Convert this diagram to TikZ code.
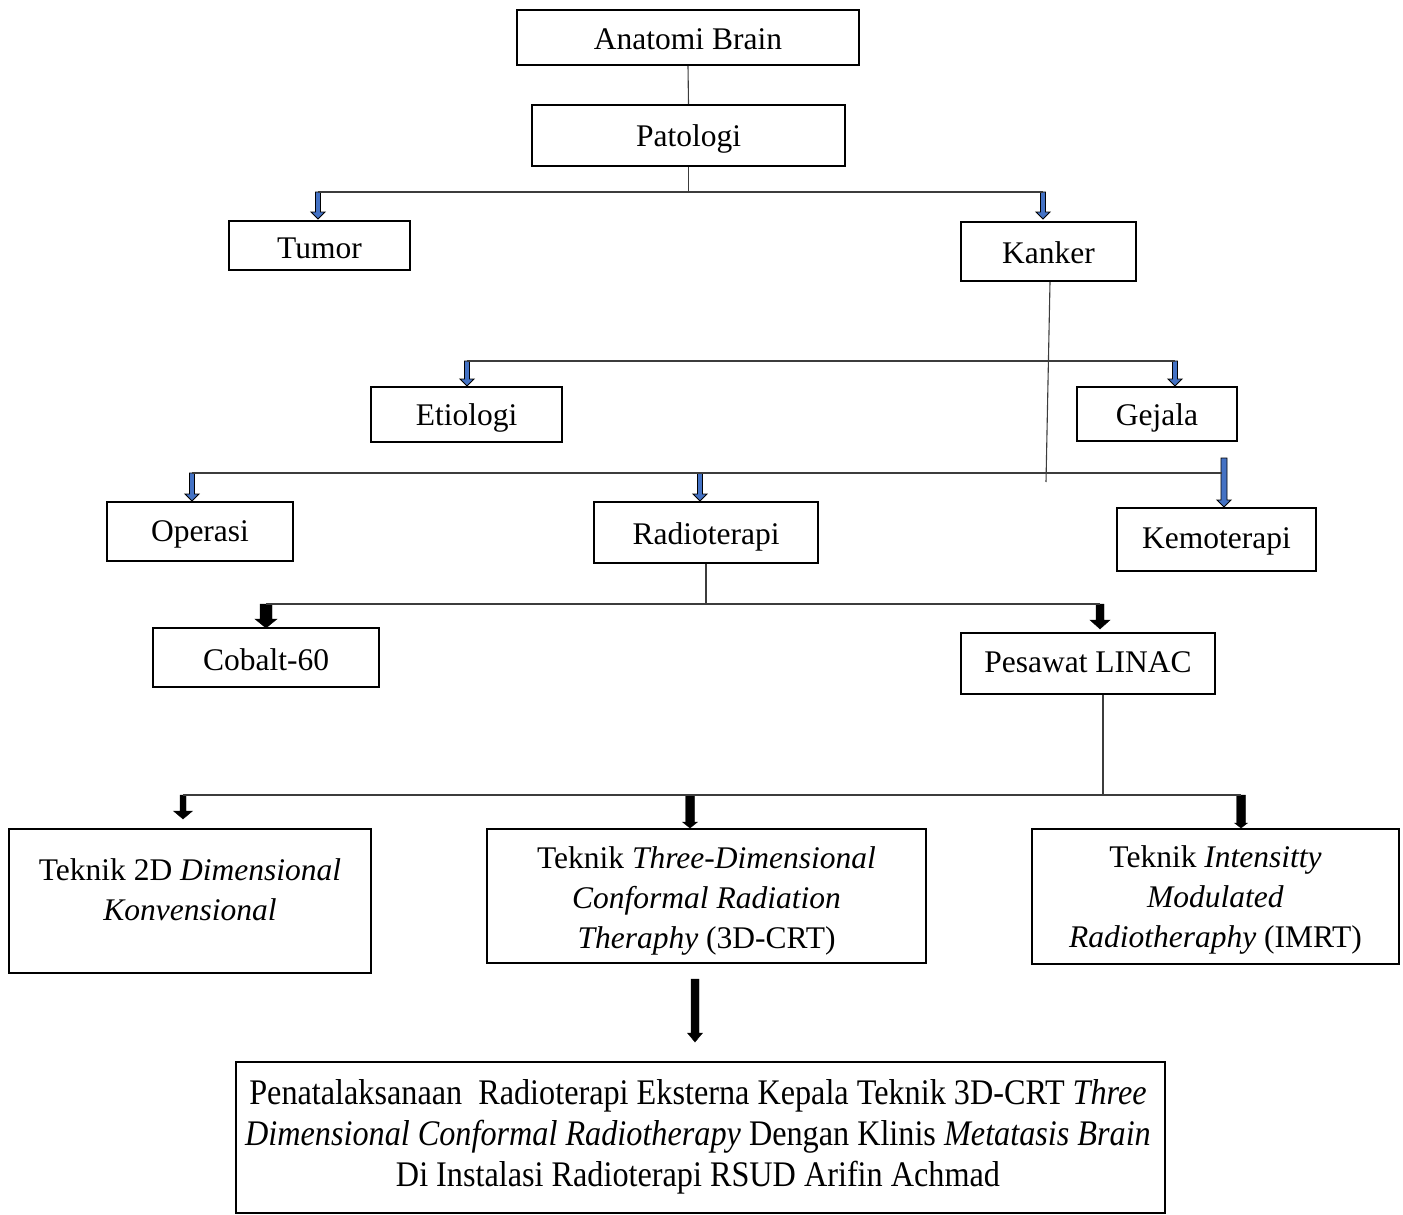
\documentclass[tikz,border=0pt]{standalone}
\usepackage{fontspec}
\setmainfont{Liberation Serif}
\newfontfamily\condfont[FakeStretch=0.895]{Liberation Serif}
\usetikzlibrary{calc}
\definecolor{arrblue}{RGB}{68,114,196}
\definecolor{lnc}{RGB}{60,60,60}
\tikzset{
  boxn/.style={draw=black, line width=2pt, inner sep=0pt, rectangle},
  txt/.style={inner sep=0pt, font=\fontsize{31.5}{40}\selectfont},
  ctxt/.style={inner sep=0pt, font=\condfont\fontsize{36}{41}\selectfont},
  conn/.style={draw=lnc, line width=1.1pt},
  bluearr/.style={fill=arrblue, draw=black, line width=0.9pt, line join=miter},
  blackarr/.style={fill=black, draw=black, line width=0.4pt},
}
% name, x, ytop, ytip, shaft width, head width, head length, style
\newcommand{\barr}[8]{%
  \coordinate (#1-top) at (#2,#3);
  \coordinate (#1-tip) at (#2,#4);
  \path[#8] ({#2-#5/2},#3) -- ({#2+#5/2},#3) -- ({#2+#5/2},{#4-#7}) -- ({#2+#6/2},{#4-#7})
     -- (#1-tip) -- ({#2-#6/2},{#4-#7}) -- ({#2-#5/2},{#4-#7}) -- cycle;}
\begin{document}
\begin{tikzpicture}[x=1pt,y=-1pt]
\useasboundingbox (0,0) rectangle (1403,1215);
% boxes
\node[boxn, minimum width=342pt, minimum height=55pt] (anat) at (688,37.5) {};
\node[txt, anchor=base] (anat-t) at (688,50) {Anatomi Brain};
\node[boxn, minimum width=313pt, minimum height=61pt] (pat) at (688.5,135.5) {};
\node[txt, anchor=base] (pat-t) at (688.5,146) {Patologi};
\node[boxn, minimum width=181pt, minimum height=49pt] (tum) at (319.5,245.5) {};
\node[txt, anchor=base] (tum-t) at (319.5,258) {Tumor};
\node[boxn, minimum width=175pt, minimum height=59pt] (kan) at (1048.5,251.5) {};
\node[txt, anchor=base] (kan-t) at (1048.5,263) {Kanker};
\node[boxn, minimum width=191pt, minimum height=55pt] (eti) at (466.5,414.5) {};
\node[txt, anchor=base] (eti-t) at (466.5,425) {Etiologi};
\node[boxn, minimum width=160pt, minimum height=54pt] (gej) at (1157,414) {};
\node[txt, anchor=base] (gej-t) at (1157,425) {Gejala};
\node[boxn, minimum width=186pt, minimum height=59pt] (ope) at (200,531.5) {};
\node[txt, anchor=base] (ope-t) at (200,541) {Operasi};
\node[boxn, minimum width=224pt, minimum height=61pt] (rad) at (706,532.5) {};
\node[txt, anchor=base] (rad-t) at (706,544) {Radioterapi};
\node[boxn, minimum width=199pt, minimum height=63pt] (kem) at (1216.5,539.5) {};
\node[txt, anchor=base] (kem-t) at (1216.5,548) {Kemoterapi};
\node[boxn, minimum width=226pt, minimum height=59pt] (cob) at (266,657.5) {};
\node[txt, anchor=base] (cob-t) at (266,670) {Cobalt-60};
\node[boxn, minimum width=254pt, minimum height=61pt] (lin) at (1088,663.5) {};
\node[txt, anchor=base] (lin-t) at (1088,672) {Pesawat LINAC};
\node[boxn, minimum width=362pt, minimum height=144pt] (t2d) at (190,901) {};
\node[txt, anchor=north, align=center] (t2d-t) at (190,852) {\strut Teknik 2D \textit{Dimensional}\\\textit{Konvensional}};
\node[boxn, minimum width=439pt, minimum height=134pt] (t3d) at (706.5,896) {};
\node[txt, anchor=north, align=center] (t3d-t) at (706.5,840) {\strut Teknik \textit{Three-Dimensional}\\\textit{Conformal Radiation}\\\textit{Theraphy} (3D-CRT)};
\node[boxn, minimum width=367pt, minimum height=135pt] (imrt) at (1215.5,896.5) {};
\node[txt, anchor=north, align=center] (imrt-t) at (1215.5,839) {\strut Teknik \textit{Intensitty}\\\textit{Modulated}\\\textit{Radiotheraphy} (IMRT)};
\node[boxn, minimum width=929pt, minimum height=151pt] (fin) at (700.5,1137.5) {};
\node[ctxt, anchor=north, align=center] (fin-t) at (698,1076) {\strut Penatalaksanaan\ \ Radioterapi Eksterna Kepala Teknik 3D-CRT \textit{Three}\\\textit{Dimensional Conformal Radiotherapy} Dengan Klinis \textit{Metatasis Brain}\\Di Instalasi Radioterapi RSUD Arifin Achmad};

% arrows
\barr{aT}{318}{192}{219}{5}{14}{7}{bluearr}
\barr{aK}{1043}{192}{219}{5}{14}{7}{bluearr}
\barr{aE}{467}{361}{386}{5}{14}{7}{bluearr}
\barr{aG}{1175}{361}{386}{5}{14}{7}{bluearr}
\barr{aO}{192}{473}{501}{5}{14}{7}{bluearr}
\barr{aR}{700}{473}{501}{5}{14}{7}{bluearr}
\barr{aM}{1224}{458}{507}{6}{14}{7}{bluearr}
\barr{aC}{266}{604}{628}{12}{22}{9}{blackarr}
\barr{aL}{1100}{604}{629}{8}{20}{9}{blackarr}
\barr{a2}{183}{795}{819}{6}{19}{8}{blackarr}
\barr{a3}{690}{795}{828}{9}{15}{6}{blackarr}
\barr{aI}{1241}{795}{828}{9}{13}{5}{blackarr}
\barr{aF}{695}{979}{1042}{8}{15}{9}{blackarr}

% connectors
\coordinate (kend) at (1046,482);
\coordinate (mend) at (1222,473);
\draw[conn] (anat.south) -- (pat.north);
\draw[conn] (pat.south) -- (pat.south |- aT-top);
\draw[conn] (aT-top) -- (aK-top);
\draw[conn] ([xshift=1.5pt]kan.south) -- (kend);
\draw[conn] (aE-top) -- (aG-top);
\draw[conn] (aO-top) -- (mend);
\draw[conn] (rad.south) -- (rad.south |- aC-top);
\draw[conn] (aC-top) -- (aL-top);
\draw[conn] ([xshift=15pt]lin.south) -- ([xshift=15pt]lin.south |- a2-top);
\draw[conn] (a2-top) -- (aI-top);
\end{tikzpicture}
\end{document}
